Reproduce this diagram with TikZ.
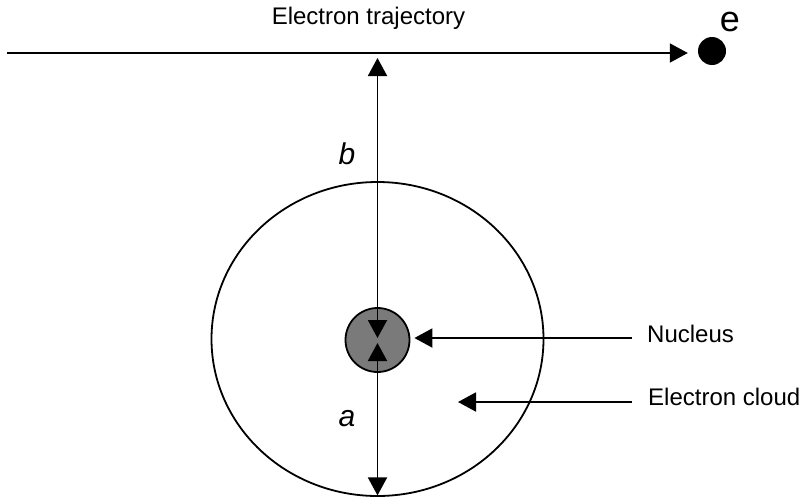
\documentclass[tikz,border=0pt]{standalone}
\usepackage{fontspec}
\setmainfont{Liberation Sans}
\usepackage{tikz}
\usetikzlibrary{positioning,arrows.meta,shapes.geometric}

\begin{document}
\begin{tikzpicture}[x=1pt,y=-1pt,
    freccia/.style={line width=1.9pt,-{Triangle[length=18pt,width=19pt]}},
    doppia/.style={line width=1.9pt,{Triangle[length=18pt,width=19pt]}-{Triangle[length=18pt,width=19pt]}},
    testo/.style={inner sep=0pt,font=\fontsize{24}{28}\selectfont},
    lettera/.style={inner sep=0pt,font=\fontsize{30}{34}\selectfont\itshape}]
  \useasboundingbox (0,0) rectangle (803,501);

  % Nube elettronica e nucleo
  \node[ellipse,draw,line width=1.8pt,minimum width=332pt,minimum height=314pt,inner sep=0pt] (nube) at (377.5,339) {};
  \node[circle,draw,line width=1.8pt,fill=black!52,minimum size=64pt,inner sep=0pt] (nucleo) at (377.5,340) {};

  % Traiettoria dell'elettrone
  \coordinate (inizio) at (7,53);
  \node[circle,fill,minimum size=28pt,inner sep=0pt] (el) at (712,51) {};
  \node[testo] (traj) at (368.5,18) {Electron trajectory};
  \node[inner sep=0pt,font=\fontsize{36}{40}\selectfont] (eLbl) at (730,22) {e};
  \draw[freccia,shorten >=10pt] (inizio) -- (inizio -| el.west);

  % Parametro d'urto b e raggio a
  \coordinate (alto) at (nucleo |- inizio);
  \draw[doppia,shorten <=2pt,shorten >=5pt] (nucleo.center) -- (alto);
  \draw[doppia,shorten <=3pt,shorten >=1.5pt] (nucleo.center) -- (nube.south);
  \node[lettera] (bLbl) at (347,154) {b};
  \node[lettera] (aLbl) at (347,419) {a};

  % Etichette a destra
  \coordinate (codaN) at (632,338);
  \node[testo,right=15pt of codaN,yshift=4pt] (nucLbl) {Nucleus};
  \draw[freccia,shorten >=4pt] (codaN) -- (codaN -| nucleo.east);

  \coordinate (codaC) at (632,402);
  \coordinate (puntaC) at (458,402);
  \node[testo,right=16pt of codaC,yshift=5pt] (cloudLbl) {Electron cloud};
  \draw[freccia] (codaC) -- (puntaC);
\end{tikzpicture}
\end{document}
